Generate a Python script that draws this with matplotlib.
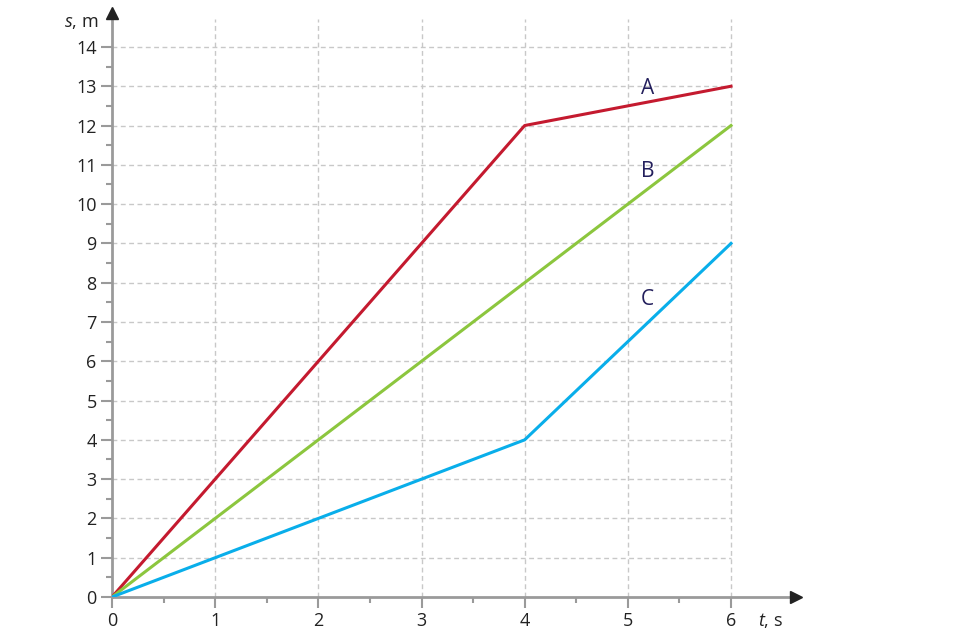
import matplotlib
matplotlib.use("Agg")
import matplotlib.pyplot as plt

plt.rcParams['font.family'] = ['Open Sans', 'DejaVu Sans']
plt.rcParams['mathtext.fontset'] = 'custom'
plt.rcParams['mathtext.it'] = 'Open Sans:italic'
plt.rcParams['mathtext.rm'] = 'Open Sans'

# data
t_a = [0, 4, 6]
s_a = [0, 12, 13]
t_b = [0, 6]
s_b = [0, 12]
t_c = [0, 4, 6]
s_c = [0, 4, 9]
x_ticks = [0, 1, 2, 3, 4, 5, 6]
y_ticks = list(range(0, 15))
labels = ["A", "B", "C"]
label_pos = [(5.19, 12.95), (5.19, 10.82), (5.19, 7.56)]

col_a = "#c41a2f"
col_b = "#8cc63e"
col_c = "#09aeea"
axis_col = "#9a9a9a"
grid_col = "#c8c8c8"
label_col = "#231f5c"

fig = plt.figure(figsize=(9.6, 6.4), dpi=100)
ax = fig.add_axes([112/960, 43/640, 7*103.17/960, 15*39.29/640])
ax.set_xlim(0, 7)
ax.set_ylim(0, 15)
for sp in ax.spines.values():
    sp.set_visible(False)

# grid
for x in x_ticks[1:]:
    ax.plot([x, x], [0, 14.7], color=grid_col, lw=1, ls=(0, (3.5, 2.5)), zorder=1)
for y in y_ticks[1:]:
    ax.plot([0, 6], [y, y], color=grid_col, lw=1, ls=(0, (3.5, 2.5)), zorder=1)

# axes with arrows
ax.plot([0, 6.6], [0, 0], color=axis_col, lw=2, zorder=2, clip_on=False)
ax.plot([0, 0], [0, 14.8], color=axis_col, lw=2, zorder=2, clip_on=False)
ax.plot([6.63], [0], marker='>', color='#222222', ms=9, clip_on=False, zorder=3)
ax.plot([0], [14.87], marker='^', color='#222222', ms=9, clip_on=False, zorder=3)

# ticks
ax.set_xticks(x_ticks)
ax.set_yticks(y_ticks)
ax.set_xticks([v + 0.5 for v in x_ticks[:-1]], minor=True)
ax.set_yticks([v + 0.5 for v in y_ticks[:-1]], minor=True)
ax.tick_params(axis='both', which='major', length=8, width=1.5, color=axis_col,
               labelsize=13, labelcolor='#222222', pad=3)
ax.tick_params(axis='both', which='minor', length=4, width=1.5, color=axis_col)

ax.plot(t_a, s_a, color=col_a, lw=2.2, zorder=4)
ax.plot(t_b, s_b, color=col_b, lw=2.2, zorder=4)
ax.plot(t_c, s_c, color=col_c, lw=2.2, zorder=4)

for lab, (lx, ly) in zip(labels, label_pos):
    ax.text(lx, ly, lab, color=label_col, fontsize=15, ha='center', va='center', zorder=5)

fig.text(98/960, 1 - 22/640, r'$s$, m', ha='right', va='center', fontsize=13, color='#222222')
fig.text(771/960, 1 - 620/640, r'$t$, s', ha='center', va='center', fontsize=13, color='#222222')

fig.savefig("out.png", dpi=100)
